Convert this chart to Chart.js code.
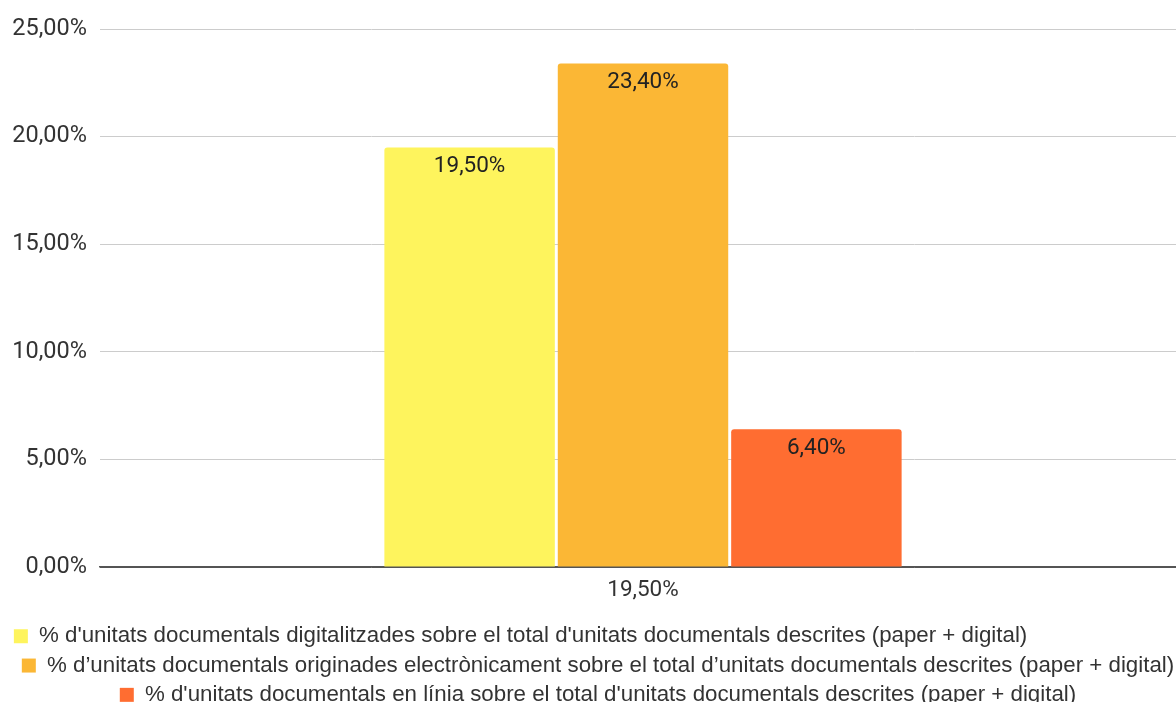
<!DOCTYPE html>
<html>
<head>
<meta charset="utf-8">
<script src="https://cdn.jsdelivr.net/npm/chart.js@4.4.1/dist/chart.umd.min.js"></script>
<style>
  html, body { margin: 0; padding: 0; background: #fff; overflow: hidden; }
  #wrap { width: 1186px; height: 716px; position: relative; }
</style>
</head>
<body>
<div id="wrap"><canvas id="c"></canvas></div>
<script>
const categories = ['19,50%'];
const seriesNames = [
  "% d'unitats documentals digitalitzades sobre el total d'unitats documentals descrites (paper + digital)",
  "% d’unitats documentals originades electrònicament sobre el total d’unitats documentals descrites (paper + digital)",
  "% d'unitats documentals en línia sobre el total d'unitats documentals descrites (paper + digital)"
];
const digitalitzades = [19.5];
const electroniques = [23.4];
const enLinia = [6.4];
const seriesColors = ['#FEF45D', '#FBB735', '#FF6D31'];

const fmt = v => Number(v).toFixed(2).replace('.', ',') + '%';

const valueLabels = {
  id: 'valueLabels',
  afterDatasetsDraw(chart) {
    const ctx = chart.ctx;
    ctx.save();
    ctx.font = '22.5px Roboto';
    ctx.fillStyle = '#222';
    ctx.textAlign = 'center';
    ctx.textBaseline = 'middle';
    chart.data.datasets.forEach((ds, i) => {
      chart.getDatasetMeta(i).data.forEach((bar, j) => {
        ctx.fillText(fmt(ds.data[j]), bar.x, bar.y + 19);
      });
    });
    ctx.restore();
  }
};

const allSeries = [digitalitzades, electroniques, enLinia];

new Chart(document.getElementById('c'), {
  type: 'bar',
  data: {
    labels: categories,
    datasets: allSeries.map((d, i) => ({
      label: seriesNames[i],
      data: d,
      backgroundColor: seriesColors[i],
      borderRadius: { topLeft: 3, topRight: 3 },
      borderSkipped: 'bottom',
      categoryPercentage: 0.479,
      barPercentage: 0.983
    }))
  },
  options: {
    responsive: true,
    maintainAspectRatio: false,
    animation: false,
    layout: { padding: { top: 29, left: 10, right: 0, bottom: 0 } },
    plugins: {
      tooltip: { enabled: false },
      legend: {
        position: 'bottom',
        align: 'center',
        labels: {
          font: { family: 'Liberation Sans', size: 22.3 },
          color: '#333',
          boxWidth: 14,
          boxHeight: 14,
          padding: 7,
          generateLabels(chart) {
            const items = Chart.defaults.plugins.legend.labels.generateLabels(chart);
            // first row sits left of centre in the reference
            items[0].text = items[0].text + '\u00A0'.repeat(25);
            return items;
          }
        }
      }
    },
    scales: {
      x: {
        grid: { display: false, drawTicks: false },
        border: { display: true, color: '#555', width: 1.5 },
        ticks: { font: { family: 'Roboto', size: 22.5 }, color: '#333', padding: 10 },
        afterFit(scale) { scale.height = 51; }
      },
      y: {
        min: 0,
        max: 25,
        ticks: {
          stepSize: 5,
          font: { family: 'Roboto', size: 23.5 },
          color: '#333',
          padding: 13,
          callback: v => fmt(v)
        },
        grid: {
          drawTicks: false,
          color: ctx => ctx.tick && ctx.tick.value === 0 ? '#555' : '#ccc',
          lineWidth: 1
        },
        border: { display: false },
        afterFit(scale) { scale.width = 90; }
      }
    }
  },
  plugins: [valueLabels]
});
</script>
</body>
</html>
